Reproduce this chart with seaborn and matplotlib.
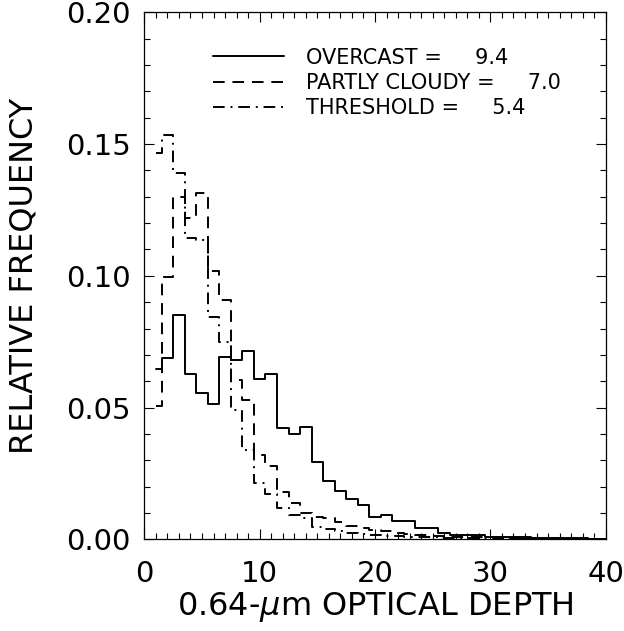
import matplotlib
matplotlib.use("Agg")
import matplotlib.pyplot as plt
import seaborn as sns
import numpy as np
import pandas as pd
from matplotlib.ticker import MultipleLocator, FormatStrFormatter

# ---- data ----
optical_depth = list(range(1, 41))

overcast = [0.0645, 0.0687, 0.0851, 0.0627, 0.0556, 0.0513, 0.0693, 0.0680, 0.0716, 0.0610,
            0.0627, 0.0424, 0.0398, 0.0425, 0.0292, 0.0222, 0.0184, 0.0154, 0.0130, 0.0086,
            0.0093, 0.0071, 0.0071, 0.0044, 0.0044, 0.0025, 0.0016, 0.0016, 0.0016, 0.0010,
            0.0009, 0.0008, 0.0007, 0.0006, 0.0006, 0.0005, 0.0004, 0.0004, 0.0003, 0.0003]

partly_cloudy = [0.0506, 0.0997, 0.1300, 0.1220, 0.1313, 0.1020, 0.0908, 0.0605, 0.0529, 0.0320,
                 0.0278, 0.0181, 0.0137, 0.0100, 0.0086, 0.0080, 0.0065, 0.0050, 0.0042, 0.0035,
                 0.0030, 0.0025, 0.0021, 0.0017, 0.0014, 0.0012, 0.0010, 0.0009, 0.0008, 0.0007,
                 0.0006, 0.0005, 0.0004, 0.0004, 0.0003, 0.0003, 0.0003, 0.0002, 0.0002, 0.0002]

threshold = [0.1465, 0.1534, 0.1390, 0.1142, 0.1136, 0.0845, 0.0748, 0.0491, 0.0339, 0.0212,
             0.0171, 0.0118, 0.0092, 0.0080, 0.0048, 0.0039, 0.0030, 0.0025, 0.0020, 0.0016,
             0.0013, 0.0011, 0.0009, 0.0008, 0.0007, 0.0006, 0.0005, 0.0004, 0.0004, 0.0003,
             0.0003, 0.0002, 0.0002, 0.0002, 0.0002, 0.0001, 0.0001, 0.0001, 0.0001, 0.0001]

series_names = ["OVERCAST", "PARTLY CLOUDY", "THRESHOLD"]
series_means = ["9.4", "7.0", "5.4"]

# ---- plot ----
sns.set_style("ticks")
plt.rcParams["font.family"] = ["DejaVu Sans"]
for key in ["text.color", "axes.labelcolor", "xtick.color", "ytick.color", "axes.edgecolor"]:
    plt.rcParams[key] = "black"

fig = plt.figure(figsize=(6.24, 6.31), dpi=100)
ax = fig.add_axes([0.2313, 0.1453, 0.7394, 0.8352])

styles = ["-", (0, (6, 4)), (0, (6, 3, 1, 3))]
values = [overcast, partly_cloudy, threshold]
for name, mean, vals, ls in zip(series_names, series_means, values, styles):
    df = pd.DataFrame({"x": optical_depth, "y": vals})
    sns.lineplot(data=df, x="x", y="y", ax=ax, color="black", linestyle=ls,
                 linewidth=1.4, drawstyle="steps-mid", errorbar=None,
                 label=f"{name} =     {mean}")

ax.set_xlim(0, 40)
ax.set_ylim(0, 0.20)
ax.xaxis.set_major_locator(MultipleLocator(10))
ax.xaxis.set_minor_locator(MultipleLocator(1))
ax.yaxis.set_major_locator(MultipleLocator(0.05))
ax.yaxis.set_minor_locator(MultipleLocator(0.01))
ax.yaxis.set_major_formatter(FormatStrFormatter("%.2f"))

ax.tick_params(which="both", direction="in", top=True, right=True, width=0.8, color="black")
ax.tick_params(which="major", length=7.5)
ax.tick_params(which="minor", length=4)
ax.tick_params(axis="x", which="major", labelsize=21, pad=15)
ax.tick_params(axis="y", which="major", labelsize=21, pad=10)
for sp in ax.spines.values():
    sp.set_linewidth(0.9)
    sp.set_color("black")

ax.set_xlabel("0.64-$\\mu$m OPTICAL DEPTH", fontsize=23, labelpad=1)
ax.set_ylabel("RELATIVE FREQUENCY", fontsize=23, labelpad=19)

yt = ax.yaxis.get_major_ticks()
yt[0].label1.set_verticalalignment("bottom")
yt[-1].label1.set_verticalalignment("top")

leg = ax.legend(loc="upper left", bbox_to_anchor=(0.149, 0.933), frameon=False,
                fontsize=15, handlelength=3.4, handletextpad=1.05, labelspacing=0.25,
                borderpad=0, borderaxespad=0)

fig.savefig("out.png", dpi=100)
